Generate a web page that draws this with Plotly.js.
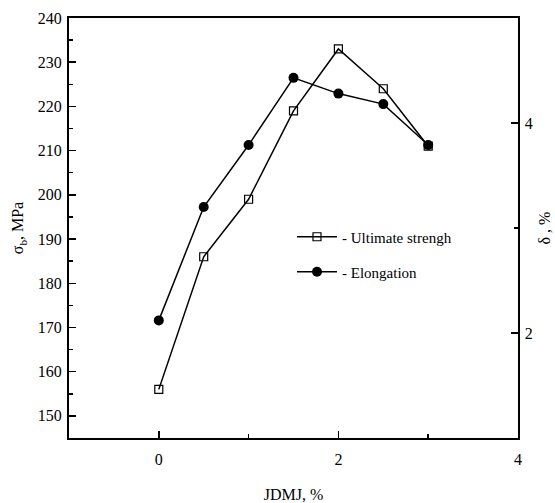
<!DOCTYPE html>
<html>
<head>
<meta charset="utf-8">
<script src="https://cdn.plot.ly/plotly-3.0.1.min.js"></script>
<style>html,body{margin:0;padding:0;background:#fff;}</style>
</head>
<body>
<div id="chart" style="width:555px;height:503px;"></div>
<script>
const jdmj = [0, 0.5, 1, 1.5, 2, 2.5, 3];
const ultimateStrength = [156, 186, 199, 219, 233, 224, 211];
const elongation = [2.12, 3.2, 3.79, 4.43, 4.28, 4.18, 3.79];
const xTicks = [0, 2, 4];
const yLeftTicks = [150, 160, 170, 180, 190, 200, 210, 220, 230, 240];
const yRightTicks = [2, 4];

const FONT = "'Liberation Serif', 'Times New Roman', serif";
const tf = {family: FONT, size: 16, color: "#000"};

const traces = [
  {
    x: jdmj, y: ultimateStrength, name: "- Ultimate strengh",
    type: "scatter", mode: "lines+markers", yaxis: "y", legend: "legend",
    line: {color: "#000", width: 1.5},
    marker: {symbol: "square-open", size: 8, color: "#000", line: {width: 1.2}}
  },
  {
    x: jdmj, y: elongation, name: "- Elongation",
    type: "scatter", mode: "lines+markers", yaxis: "y2", legend: "legend2",
    line: {color: "#000", width: 1.5},
    marker: {symbol: "circle", size: 10, color: "#000"}
  }
];

const layout = {
  width: 555, height: 503,
  margin: {l: 69, r: 37, t: 18, b: 65},
  paper_bgcolor: "#fff", plot_bgcolor: "#fff",
  font: tf,
  showlegend: true,
  xaxis: {
    range: [-1, 4], tickvals: xTicks, ticktext: xTicks.map(String), tickfont: tf,
    ticks: "inside", ticklen: 7, tickwidth: 1.5, tickcolor: "#000",
    minor: {dtick: 1, tick0: 0, ticks: "inside", ticklen: 4, tickwidth: 1.5, tickcolor: "#000"},
    showline: true, linewidth: 2, linecolor: "#000", mirror: true,
    showgrid: false, zeroline: false, ticklabelstandoff: 6,
    title: {text: "JDMJ, %", font: tf, standoff: 24}
  },
  yaxis: {
    range: [145, 240], tickvals: yLeftTicks, tickfont: tf,
    ticks: "inside", ticklen: 7, tickwidth: 1.5, tickcolor: "#000",
    minor: {dtick: 5, tick0: 0, ticks: "inside", ticklen: 4, tickwidth: 1.5, tickcolor: "#000"},
    showline: true, linewidth: 2, linecolor: "#000",
    showgrid: false, zeroline: false, ticklabelstandoff: 2,
    title: {text: "σ<sub>b</sub>, MPa", font: tf, standoff: 10}
  },
  yaxis2: {
    overlaying: "y", side: "right",
    range: [1, 5], tickvals: yRightTicks, tickfont: tf,
    ticks: "inside", ticklen: 7, tickwidth: 1.5, tickcolor: "#000",
    minor: {dtick: 1, tick0: 0, ticks: "inside", ticklen: 4, tickwidth: 1.5, tickcolor: "#000"},
    showline: true, linewidth: 1.5, linecolor: "#000",
    showgrid: false, zeroline: false, ticklabelstandoff: 2
  },
  legend: {
    bgcolor: "rgba(0,0,0,0)", borderwidth: 0,
    font: {family: FONT, size: 15, color: "#000"}, itemwidth: 40
  },
  legend2: {
    bgcolor: "rgba(0,0,0,0)", borderwidth: 0,
    font: {family: FONT, size: 15, color: "#000"}, itemwidth: 40
  },
  annotations: [
    {text: "δ , %", xref: "paper", yref: "paper", x: 1, y: 0.5, xshift: 36,
     textangle: -90, showarrow: false, font: tf}
  ]
};
// legend positions in paper coordinates (plot area 69..518 x, 18..438 y)
const pw = 555 - 69 - 37, ph = 503 - 18 - 65;
layout.legend.x = (292 - 69) / pw; layout.legend.y = 1 - (237 - 18) / ph;
layout.legend.xanchor = "left"; layout.legend.yanchor = "middle";
layout.legend2.x = (292 - 69) / pw; layout.legend2.y = 1 - (272 - 18) / ph;
layout.legend2.xanchor = "left"; layout.legend2.yanchor = "middle";

Plotly.newPlot("chart", traces, layout, {displayModeBar: false, staticPlot: true});
</script>
</body>
</html>
